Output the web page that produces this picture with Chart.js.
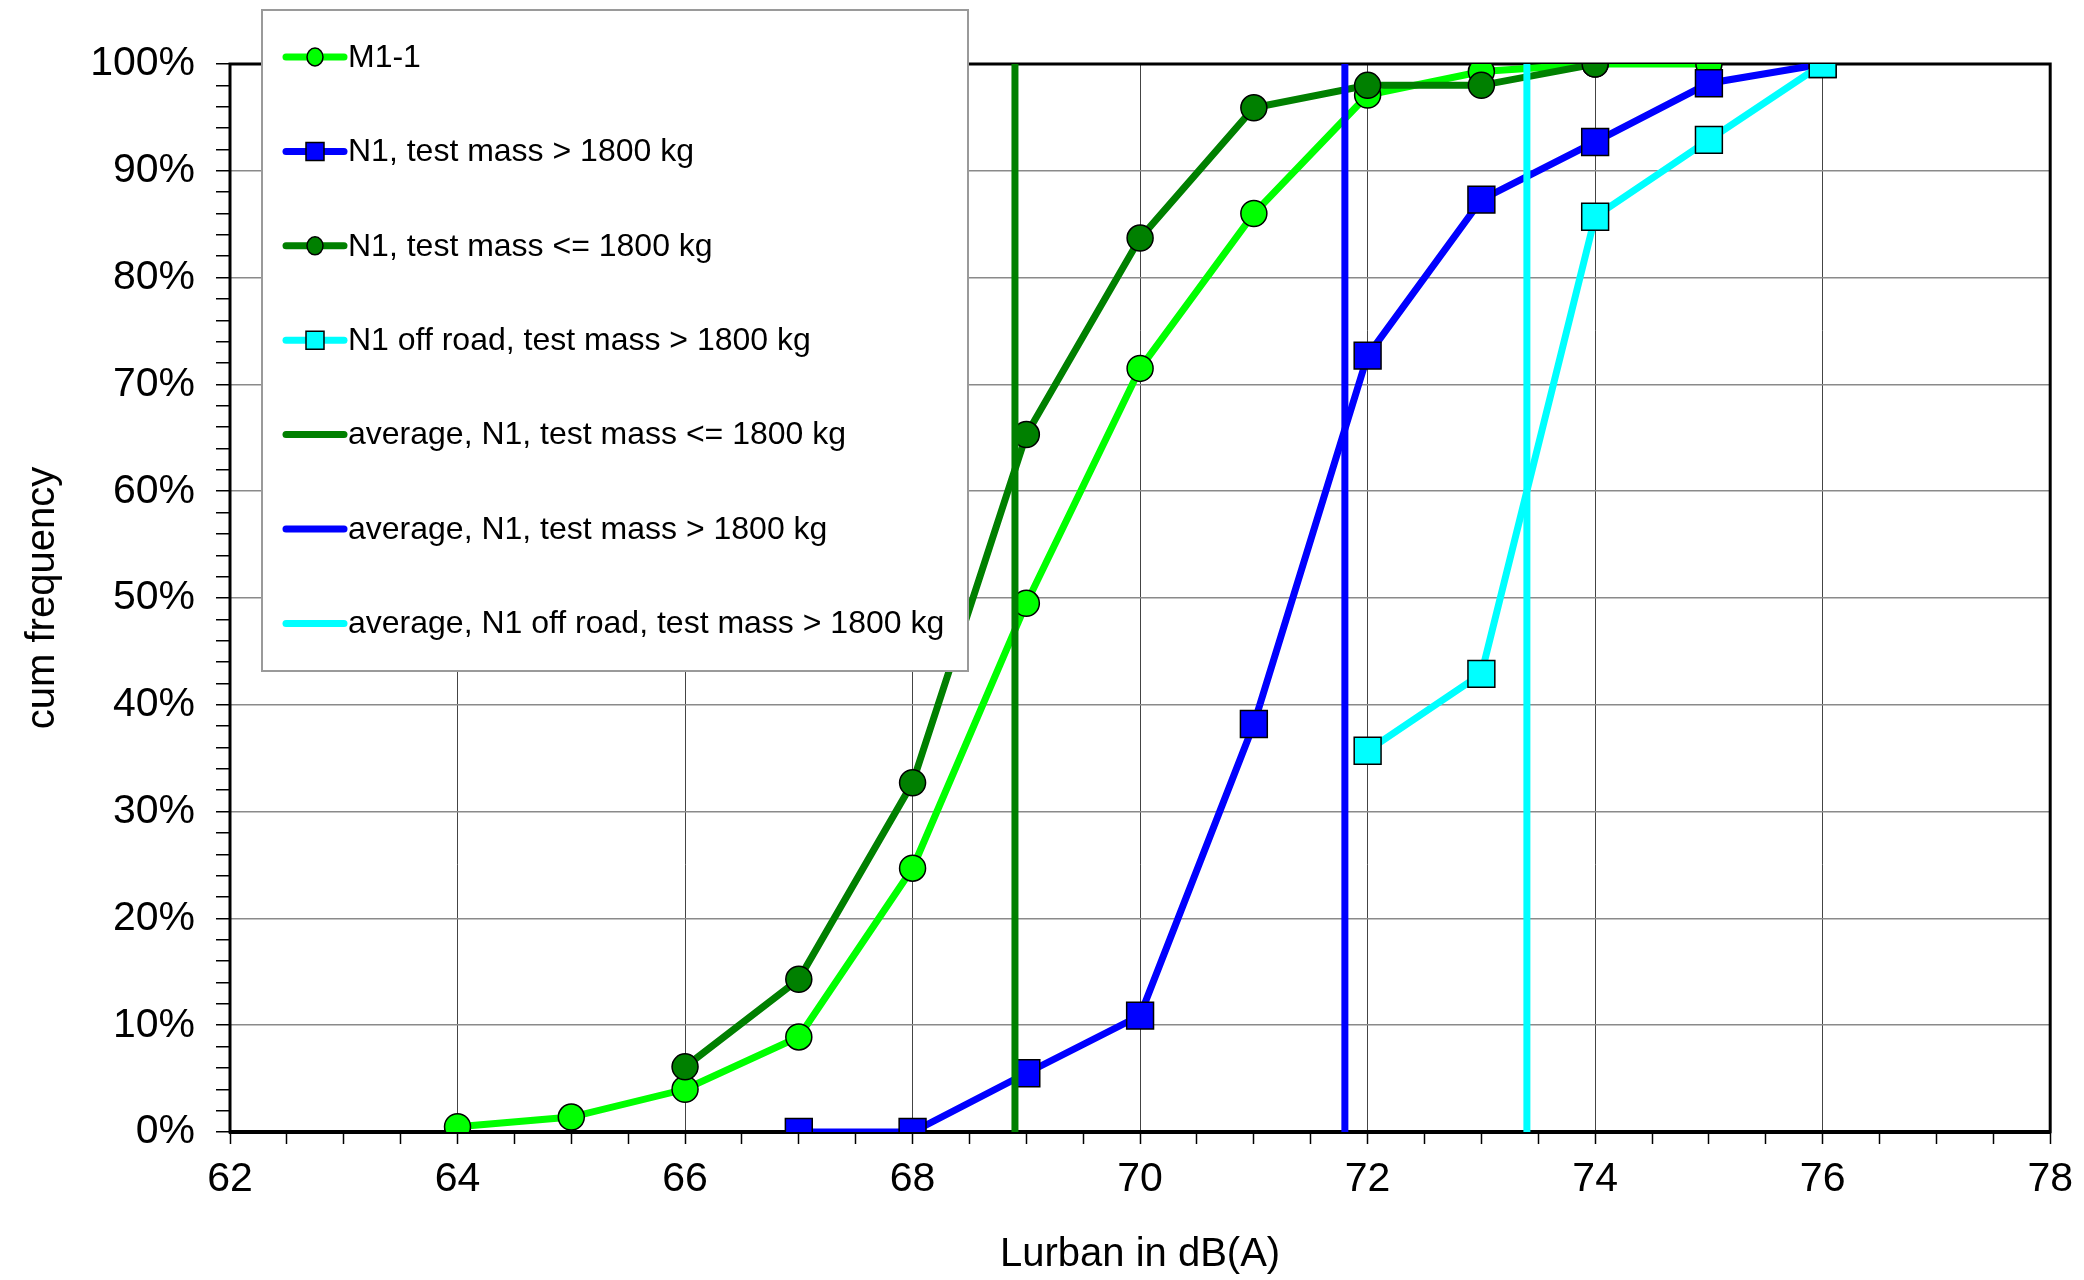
<!DOCTYPE html>
<html>
<head>
<meta charset="utf-8">
<script src="https://cdn.jsdelivr.net/npm/chart.js@4/dist/chart.umd.min.js"></script>
<style>
  body { margin: 0; background: #fff; }
  #wrap { width: 2084px; height: 1280px; }
</style>
</head>
<body>
<div id="wrap"><canvas id="myChart" width="2084" height="1280"></canvas></div>
<script>
// cumulative frequency data, Lurban in dB(A)
var m1X = [64, 65, 66, 67, 68, 69, 70, 71, 72, 73, 74, 75];
var m1Y = [0.5, 1.4, 4.0, 8.9, 24.7, 49.5, 71.5, 86.0, 97.1, 99.3, 100, 100];

var n1HeavyX = [67, 68, 69, 70, 71, 72, 73, 74, 75, 76];
var n1HeavyY = [0, 0, 5.5, 10.9, 38.2, 72.7, 87.3, 92.7, 98.2, 100];

var n1LightX = [66, 67, 68, 69, 70, 71, 72, 73, 74];
var n1LightY = [6.1, 14.3, 32.7, 65.3, 83.7, 95.9, 98.0, 98.0, 100];

var offRoadX = [72, 73, 74, 75, 76];
var offRoadY = [35.7, 42.9, 85.7, 92.9, 100];

// averages (vertical lines)
var avgLight = 68.9;
var avgHeavy = 71.8;
var avgOffRoad = 73.4;

var labels = [
    'M1-1',
    'N1, test mass > 1800 kg',
    'N1, test mass <= 1800 kg',
    'N1 off road, test mass > 1800 kg',
    'average, N1, test mass <= 1800 kg',
    'average, N1, test mass > 1800 kg',
    'average, N1 off road, test mass > 1800 kg'
];

var xMin = 62, xMax = 78;
var yMin = 0, yMax = 100;

function pts(xs, ys) {
    return xs.map(function(x, i) { return {x: x, y: ys[i]}; });
}
function vline(x) {
    return [{x: x, y: yMin}, {x: x, y: yMax}];
}

var FONT = "'Liberation Sans', Arial, sans-serif";

function series(label, data, color, style, radius, order) {
    return {
        label: label,
        data: data,
        borderColor: color,
        backgroundColor: color,
        borderWidth: 7,
        pointStyle: style,
        pointRadius: radius,
        pointBorderColor: '#000',
        pointBorderWidth: 1.5,
        pointBackgroundColor: color,
        order: order
    };
}
function avgLine(label, x, color, order) {
    return {
        label: label,
        data: vline(x),
        borderColor: color,
        backgroundColor: color,
        borderWidth: 7,
        pointRadius: 0,
        order: order
    };
}

var datasets = [
    series(labels[0], pts(m1X, m1Y), '#00ff00', 'circle', 13, 7),
    series(labels[1], pts(n1HeavyX, n1HeavyY), '#0000ff', 'rect', 19, 6),
    series(labels[2], pts(n1LightX, n1LightY), '#008000', 'circle', 13, 5),
    series(labels[3], pts(offRoadX, offRoadY), '#00ffff', 'rect', 19, 4),
    avgLine(labels[4], avgLight, '#008000', 3),
    avgLine(labels[5], avgHeavy, '#0000ff', 2),
    avgLine(labels[6], avgOffRoad, '#00ffff', 1)
];

// frame around the plot area
var framePlugin = {
    id: 'frame',
    beforeDatasetsDraw: function(chart) {
        var a = chart.chartArea, c = chart.ctx;
        c.save();
        c.strokeStyle = '#000';
        c.lineWidth = 3;
        c.strokeRect(a.left, a.top, a.right - a.left, a.bottom - a.top);
        c.beginPath();
        c.lineWidth = 4;
        c.moveTo(a.left, a.bottom);
        c.lineTo(a.right, a.bottom);
        c.stroke();
        c.restore();
    }
};

// boxed legend sitting on top of the plot, upper left
var legendBox = {
    id: 'legendBox',
    afterDraw: function(chart) {
        var c = chart.ctx;
        var bx = 262, by = 10, bw = 706, bh = 661;
        c.save();
        c.fillStyle = '#fff';
        c.fillRect(bx, by, bw, bh);
        c.strokeStyle = '#9a9a9a';
        c.lineWidth = 2;
        c.strokeRect(bx, by, bw, bh);
        c.font = '32px ' + FONT;
        c.textBaseline = 'middle';
        c.textAlign = 'left';
        chart.data.datasets.forEach(function(ds, i) {
            var cy = 57 + i * 94.4;
            c.strokeStyle = ds.borderColor;
            c.lineWidth = 7;
            c.lineCap = 'round';
            c.beginPath();
            c.moveTo(286, cy);
            c.lineTo(344, cy);
            c.stroke();
            if (ds.pointRadius > 0) {
                c.fillStyle = ds.pointBackgroundColor;
                c.strokeStyle = '#000';
                c.lineWidth = 1.5;
                c.beginPath();
                if (ds.pointStyle === 'circle') {
                    c.ellipse(315, cy, 8, 9, 0, 0, Math.PI * 2);
                } else {
                    c.rect(306, cy - 9, 18, 18);
                }
                c.fill();
                c.stroke();
            }
            c.fillStyle = '#000';
            c.fillText(ds.label, 348, cy + 1);
        });
        c.restore();
    }
};

var ctx = document.getElementById('myChart').getContext('2d');
window.myLine = new Chart(ctx, {
    type: 'line',
    data: { datasets: datasets },
    options: {
        responsive: false,
        animation: false,
        devicePixelRatio: 1,
        layout: { padding: { left: 0, right: 31, top: 64, bottom: 0 } },
        plugins: {
            legend: { display: false },
            tooltip: { enabled: false }
        },
        elements: { line: { tension: 0 } },
        scales: {
            x: {
                type: 'linear',
                min: xMin,
                max: xMax,
                afterFit: function(s) { s.height = 148; },
                border: { display: true, color: '#000', width: 3 },
                grid: {
                    color: function(c) {
                        var v = c.tick ? c.tick.value : 0;
                        return (v % 2 === 0) ? '#444' : 'rgba(0,0,0,0)';
                    },
                    lineWidth: 1,
                    tickColor: '#000',
                    tickWidth: 1.5,
                    tickLength: 12,
                    drawTicks: true
                },
                ticks: {
                    stepSize: 0.5,
                    maxTicksLimit: 100,
                    autoSkip: false,
                    maxRotation: 0,
                    padding: 11,
                    color: '#000',
                    font: { family: FONT, size: 41 },
                    callback: function(v) { return (v % 2 === 0) ? String(v) : ''; }
                },
                title: {
                    display: true,
                    text: 'Lurban in dB(A)',
                    color: '#000',
                    font: { family: FONT, size: 40 },
                    padding: { top: 0, bottom: 1 }
                }
            },
            y: {
                min: yMin,
                max: yMax,
                afterFit: function(s) { s.width = 230; },
                border: { display: true, color: '#000', width: 2 },
                grid: {
                    color: function(c) {
                        var v = c.tick ? c.tick.value : 0;
                        return (v % 10 === 0) ? '#8a8a8a' : 'rgba(0,0,0,0)';
                    },
                    lineWidth: 1.5,
                    tickColor: '#000',
                    tickWidth: 1.5,
                    tickLength: 14,
                    drawTicks: true
                },
                ticks: {
                    stepSize: 2,
                    maxTicksLimit: 100,
                    autoSkip: false,
                    padding: 21,
                    color: '#000',
                    font: { family: FONT, size: 41 },
                    callback: function(v) { return (v % 10 === 0) ? v + '%' : ''; }
                },
                title: {
                    display: true,
                    text: 'cum frequency',
                    color: '#000',
                    font: { family: FONT, size: 40 },
                    padding: { top: 19, bottom: 0 }
                }
            }
        }
    },
    plugins: [framePlugin, legendBox]
});
</script>
</body>
</html>
